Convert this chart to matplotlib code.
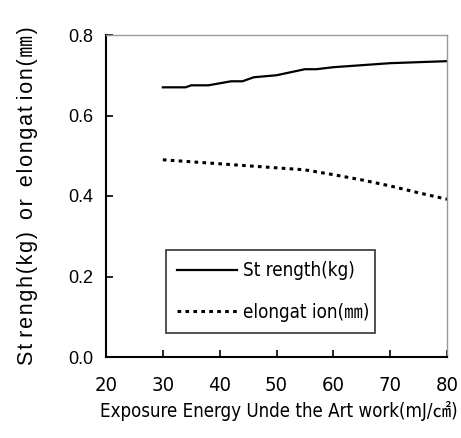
import matplotlib.pyplot as plt

# exposure energy vs strength / elongation
energia_str = [30, 34, 35, 38, 42, 44, 46, 50, 55, 57, 60, 70, 80]
strength = [0.67, 0.67, 0.675, 0.675, 0.685, 0.685, 0.695, 0.70, 0.715, 0.715, 0.72, 0.73, 0.735]

energia_elo = [30, 35, 40, 45, 50, 55, 60, 65, 70, 75, 80]
elongation = [0.49, 0.485, 0.48, 0.475, 0.47, 0.465, 0.453, 0.44, 0.425, 0.408, 0.392]

xticks = [20, 30, 40, 50, 60, 70, 80]
yticks = [0.0, 0.2, 0.4, 0.6, 0.8]

fam = ['DejaVu Sans', 'Noto Sans CJK JP']
plain = ['Liberation Sans', 'DejaVu Sans', 'Noto Sans CJK JP']

fig = plt.figure(figsize=(4.61, 4.38), dpi=100)
ax = fig.add_axes([106/461, 1 - 357/438, 341/461, 322/438])

ax.plot(energia_str, strength, color='black', lw=1.6, label='St rength(kg)')
ax.plot(energia_elo, elongation, color='black', lw=2.2, linestyle=(0, (1.2, 1.4)),
        label='elongat ion(㎜)')

ax.set_xlim(20, 80)
ax.set_ylim(0, 0.8)
ax.set_xticks(xticks)
ax.set_yticks(yticks)
ax.set_yticklabels([f'{v:.1f}' for v in yticks], family='Liberation Sans', fontsize=13)
ax.set_xticklabels([str(v) for v in xticks], family=fam, stretch='condensed', fontsize=14.5)
ax.tick_params(direction='in', length=5, width=1.2)
ax.tick_params(axis='y', pad=9)
ax.tick_params(axis='x', pad=14)

ax.spines['left'].set_linewidth(1.5)
ax.spines['bottom'].set_linewidth(1.5)
for s in ['top', 'right']:
    ax.spines[s].set_color('#999999')
    ax.spines[s].set_linewidth(1)

ax.set_xlabel('Exposure Energy Unde the Art work(mJ/㎠)', family=fam, stretch='condensed',
              fontsize=13.4)
ax.xaxis.set_label_coords(0.507, -0.135)

# y label with wide letter spacing
hair = '\u200a'
words = [hair.join(w) for w in ['St', 'rengh(kg)', 'or', 'elongat', 'ion(㎜)']]
ylab = words[0] + ' ' + words[1] + '  ' + words[2] + '  ' + words[3] + ' ' + words[4]
ax.set_ylabel(ylab, family=plain, fontsize=15.5, labelpad=22)

leg = ax.legend(loc='lower left', bbox_to_anchor=(0.176, 0.075, 0.613, 0.264), mode='expand',
                prop={'family': fam, 'stretch': 'condensed', 'size': 13.5},
                handlelength=3.2, handletextpad=0.3, borderpad=0.6,
                frameon=True, fancybox=False, borderaxespad=0, labelspacing=1.2)
leg.get_frame().set_edgecolor('black')
leg.get_frame().set_linewidth(1.2)

fig.savefig('out.png', dpi=100)
